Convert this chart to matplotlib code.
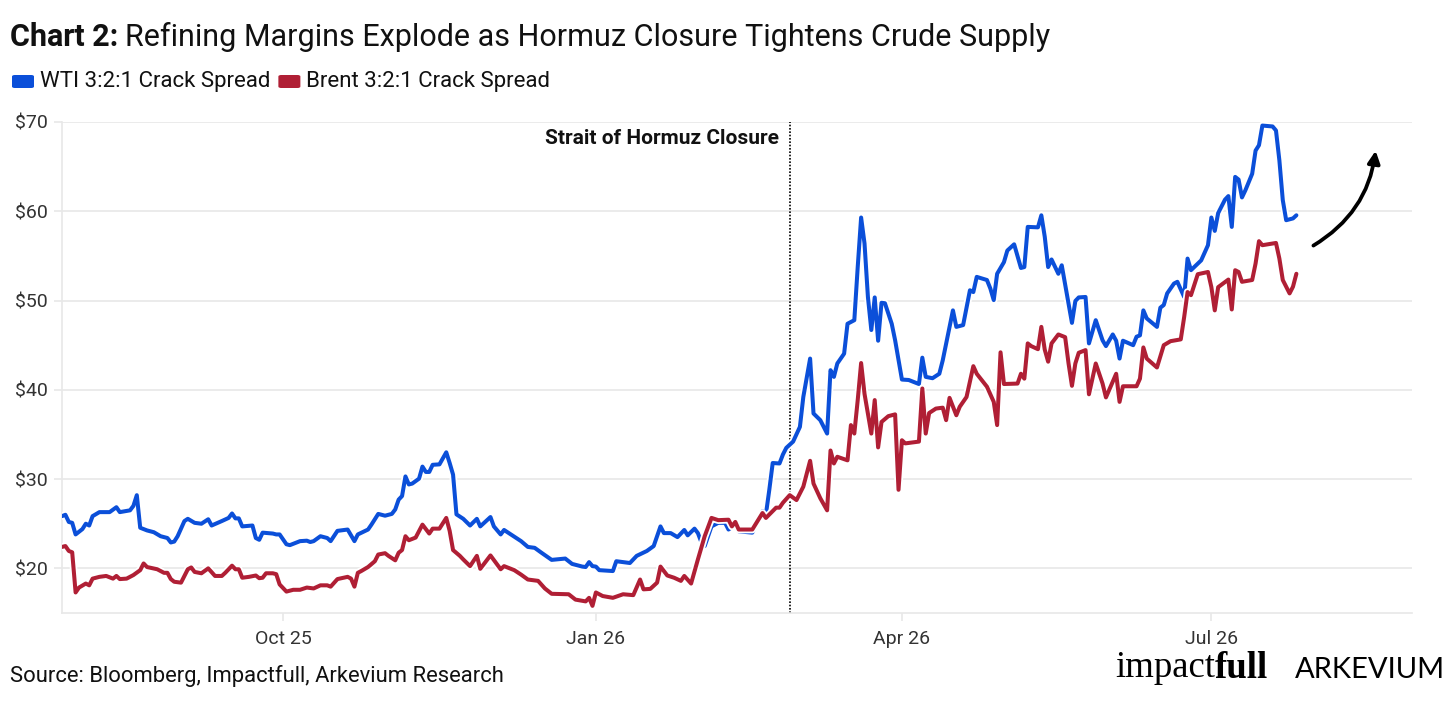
import matplotlib
matplotlib.use('Agg')
import matplotlib.pyplot as plt
import matplotlib.patheffects as pe
from matplotlib.patches import FancyBboxPatch
import pandas as pd

plt.rcParams['font.family'] = ['Roboto', 'DejaVu Sans']

BLUE = '#0B4FD9'
RED = '#B01F35'
GRID = '#E8E8E8'
TXT = '#333333'

wti_dates = [
    '2025-07-28', '2025-07-29', '2025-07-30', '2025-07-31', '2025-08-01', '2025-08-03', '2025-08-04',
    '2025-08-05', '2025-08-06', '2025-08-08', '2025-08-11', '2025-08-13', '2025-08-14', '2025-08-17',
    '2025-08-18', '2025-08-19', '2025-08-20', '2025-08-22', '2025-08-24', '2025-08-26', '2025-08-28',
    '2025-08-29', '2025-08-30', '2025-08-31', '2025-09-02', '2025-09-03', '2025-09-05', '2025-09-07',
    '2025-09-09', '2025-09-10', '2025-09-13', '2025-09-15', '2025-09-16', '2025-09-17', '2025-09-18',
    '2025-09-19', '2025-09-22', '2025-09-23', '2025-09-24', '2025-09-25', '2025-09-28', '2025-09-29',
    '2025-09-30', '2025-10-02', '2025-10-03', '2025-10-05', '2025-10-06', '2025-10-08', '2025-10-09',
    '2025-10-10', '2025-10-12', '2025-10-14', '2025-10-15', '2025-10-17', '2025-10-20', '2025-10-22',
    '2025-10-23', '2025-10-26', '2025-10-27', '2025-10-29', '2025-10-31', '2025-11-02', '2025-11-03',
    '2025-11-04', '2025-11-05', '2025-11-06', '2025-11-07', '2025-11-08', '2025-11-10', '2025-11-11',
    '2025-11-12', '2025-11-13', '2025-11-14', '2025-11-16', '2025-11-18', '2025-11-19', '2025-11-20',
    '2025-11-21', '2025-11-23', '2025-11-25', '2025-11-27', '2025-11-28', '2025-12-01', '2025-12-02',
    '2025-12-04', '2025-12-05', '2025-12-07', '2025-12-10', '2025-12-12', '2025-12-14', '2025-12-16',
    '2025-12-19', '2025-12-23', '2025-12-25', '2025-12-28', '2025-12-29', '2025-12-30', '2025-12-31',
    '2026-01-01', '2026-01-02', '2026-01-06', '2026-01-07', '2026-01-11', '2026-01-13', '2026-01-16',
    '2026-01-18', '2026-01-20', '2026-01-21', '2026-01-23', '2026-01-25', '2026-01-27', '2026-01-28',
    '2026-01-30', '2026-01-31', '2026-02-01', '2026-02-02', '2026-02-04', '2026-02-06', '2026-02-08',
    '2026-02-09', '2026-02-11', '2026-02-12', '2026-02-16', '2026-02-18', '2026-02-19', '2026-02-20',
    '2026-02-21', '2026-02-22', '2026-02-24', '2026-02-25', '2026-02-26', '2026-02-28', '2026-03-02',
    '2026-03-03', '2026-03-05', '2026-03-06', '2026-03-08', '2026-03-10', '2026-03-11', '2026-03-12',
    '2026-03-13', '2026-03-15', '2026-03-16', '2026-03-18', '2026-03-19', '2026-03-20', '2026-03-21',
    '2026-03-22', '2026-03-23', '2026-03-24', '2026-03-25', '2026-03-26', '2026-03-27', '2026-03-29',
    '2026-03-30', '2026-04-01', '2026-04-03', '2026-04-06', '2026-04-07', '2026-04-08', '2026-04-10',
    '2026-04-12', '2026-04-13', '2026-04-16', '2026-04-17', '2026-04-19', '2026-04-21', '2026-04-22',
    '2026-04-23', '2026-04-26', '2026-04-27', '2026-04-28', '2026-04-29', '2026-05-01', '2026-05-02',
    '2026-05-04', '2026-05-06', '2026-05-07', '2026-05-08', '2026-05-11', '2026-05-12', '2026-05-13',
    '2026-05-14', '2026-05-15', '2026-05-17', '2026-05-18', '2026-05-20', '2026-05-21', '2026-05-22',
    '2026-05-23', '2026-05-25', '2026-05-26', '2026-05-28', '2026-05-30', '2026-05-31', '2026-06-02',
    '2026-06-03', '2026-06-04', '2026-06-05', '2026-06-08', '2026-06-09', '2026-06-10', '2026-06-11',
    '2026-06-12', '2026-06-15', '2026-06-16', '2026-06-17', '2026-06-18', '2026-06-20', '2026-06-21',
    '2026-06-23', '2026-06-24', '2026-06-25', '2026-06-28', '2026-06-30', '2026-07-01', '2026-07-02',
    '2026-07-03', '2026-07-05', '2026-07-06', '2026-07-07', '2026-07-08', '2026-07-09', '2026-07-10',
    '2026-07-11', '2026-07-13', '2026-07-14', '2026-07-15', '2026-07-16', '2026-07-19', '2026-07-20',
    '2026-07-21', '2026-07-22', '2026-07-23', '2026-07-25', '2026-07-26',
]
wti_values = [
    25.85, 26.0, 25.2, 25.1, 23.8, 24.4, 25.0,
    24.8, 25.85, 26.3, 26.3, 26.85, 26.3, 26.5,
    27.0, 28.2, 24.55, 24.25, 24.05, 23.6, 23.4,
    22.9, 23.0, 23.6, 25.3, 25.55, 25.1, 25.0,
    25.5, 24.8, 25.3, 25.65, 26.15, 25.6, 25.6,
    24.7, 24.8, 23.4, 23.2, 24.0, 23.9, 23.8,
    23.8, 22.7, 22.6, 22.9, 23.05, 23.1, 22.95,
    23.05, 23.6, 23.4, 23.05, 24.2, 24.35, 23.05,
    23.8, 24.35, 24.9, 26.1, 25.9, 26.1, 26.6,
    27.7, 28.1, 30.3, 29.4, 29.5, 30.05, 31.4,
    30.8, 30.8, 31.6, 31.65, 33.0, 31.8, 30.5,
    26.05, 25.55, 24.8, 25.55, 24.7, 25.75, 24.7,
    23.8, 24.3, 23.8, 23.05, 22.4, 22.3, 21.75,
    20.95, 21.1, 20.5, 20.2, 20.15, 20.7, 20.25,
    20.2, 19.8, 19.7, 20.8, 20.6, 21.4, 21.95,
    22.5, 24.7, 23.95, 23.95, 23.5, 24.3, 23.7,
    24.45, 23.95, 22.95, 22.5, 24.7, 25.1, 25.1,
    24.35, 24.9, 24.15, 24.0, 25.65, 26.4, 26.05,
    28.8, 31.8, 31.75, 32.75, 33.5, 34.2, 35.85,
    39.2, 43.5, 37.35, 36.6, 35.1, 42.2, 41.45,
    42.95, 44.05, 47.4, 47.8, 53.75, 59.3, 56.4,
    50.4, 46.7, 50.35, 45.5, 49.75, 49.7, 47.4,
    45.55, 41.15, 41.1, 40.65, 43.6, 41.45, 41.3,
    41.8, 43.3, 48.9, 47.05, 47.25, 51.15, 50.95,
    52.65, 52.3, 51.35, 50.05, 53.0, 54.3, 55.6,
    56.3, 53.65, 53.75, 58.25, 58.2, 59.55, 57.15,
    53.75, 54.6, 53.0, 53.95, 49.65, 47.5, 49.95,
    50.35, 50.4, 45.2, 47.8, 45.55, 44.9, 46.2,
    45.5, 43.5, 45.5, 45.0, 45.95, 46.1, 48.9,
    48.0, 47.05, 49.2, 49.5, 50.8, 51.9, 52.1,
    50.4, 54.7, 53.4, 54.5, 56.2, 59.3, 57.8,
    59.8, 61.3, 61.7, 58.25, 63.85, 63.55, 61.55,
    62.35, 64.2, 66.8, 67.4, 69.6, 69.5, 69.05,
    65.7, 61.25, 59.0, 59.2, 59.55,
]

brent_dates = [
    '2025-07-28', '2025-07-29', '2025-07-30', '2025-07-31', '2025-08-01', '2025-08-02', '2025-08-04',
    '2025-08-05', '2025-08-06', '2025-08-08', '2025-08-10', '2025-08-12', '2025-08-13', '2025-08-14',
    '2025-08-16', '2025-08-18', '2025-08-20', '2025-08-21', '2025-08-22', '2025-08-25', '2025-08-27',
    '2025-08-28', '2025-08-29', '2025-08-30', '2025-09-01', '2025-09-03', '2025-09-04', '2025-09-05',
    '2025-09-07', '2025-09-09', '2025-09-11', '2025-09-13', '2025-09-14', '2025-09-16', '2025-09-17',
    '2025-09-18', '2025-09-19', '2025-09-21', '2025-09-23', '2025-09-24', '2025-09-25', '2025-09-26',
    '2025-09-28', '2025-09-29', '2025-09-30', '2025-10-02', '2025-10-04', '2025-10-06', '2025-10-08',
    '2025-10-10', '2025-10-12', '2025-10-14', '2025-10-15', '2025-10-17', '2025-10-20', '2025-10-21',
    '2025-10-22', '2025-10-23', '2025-10-24', '2025-10-26', '2025-10-28', '2025-10-29', '2025-10-31',
    '2025-11-01', '2025-11-03', '2025-11-04', '2025-11-05', '2025-11-06', '2025-11-07', '2025-11-09',
    '2025-11-11', '2025-11-13', '2025-11-14', '2025-11-16', '2025-11-18', '2025-11-19', '2025-11-20',
    '2025-11-22', '2025-11-23', '2025-11-25', '2025-11-27', '2025-11-28', '2025-12-01', '2025-12-04',
    '2025-12-05', '2025-12-08', '2025-12-10', '2025-12-12', '2025-12-15', '2025-12-17', '2025-12-19',
    '2025-12-24', '2025-12-26', '2025-12-29', '2025-12-30', '2025-12-31', '2026-01-01', '2026-01-03',
    '2026-01-06', '2026-01-09', '2026-01-12', '2026-01-14', '2026-01-15', '2026-01-17', '2026-01-19',
    '2026-01-20', '2026-01-22', '2026-01-24', '2026-01-26', '2026-01-27', '2026-01-29', '2026-01-31',
    '2026-02-02', '2026-02-04', '2026-02-06', '2026-02-09', '2026-02-10', '2026-02-11', '2026-02-12',
    '2026-02-16', '2026-02-19', '2026-02-20', '2026-02-23', '2026-02-24', '2026-02-25', '2026-02-27',
    '2026-03-01', '2026-03-03', '2026-03-05', '2026-03-06', '2026-03-08', '2026-03-10', '2026-03-11',
    '2026-03-12', '2026-03-13', '2026-03-16', '2026-03-17', '2026-03-18', '2026-03-19', '2026-03-20',
    '2026-03-21', '2026-03-23', '2026-03-24', '2026-03-25', '2026-03-26', '2026-03-28', '2026-03-30',
    '2026-03-31', '2026-04-01', '2026-04-02', '2026-04-06', '2026-04-07', '2026-04-08', '2026-04-09',
    '2026-04-11', '2026-04-13', '2026-04-14', '2026-04-15', '2026-04-17', '2026-04-18', '2026-04-20',
    '2026-04-22', '2026-04-23', '2026-04-26', '2026-04-28', '2026-04-29', '2026-04-30', '2026-05-01',
    '2026-05-05', '2026-05-06', '2026-05-07', '2026-05-08', '2026-05-09', '2026-05-11', '2026-05-12',
    '2026-05-13', '2026-05-14', '2026-05-15', '2026-05-17', '2026-05-19', '2026-05-20', '2026-05-21',
    '2026-05-22', '2026-05-23', '2026-05-25', '2026-05-26', '2026-05-28', '2026-05-30', '2026-05-31',
    '2026-06-03', '2026-06-04', '2026-06-05', '2026-06-09', '2026-06-10', '2026-06-11', '2026-06-12',
    '2026-06-15', '2026-06-17', '2026-06-19', '2026-06-22', '2026-06-23', '2026-06-24', '2026-06-25',
    '2026-06-27', '2026-06-30', '2026-07-01', '2026-07-02', '2026-07-03', '2026-07-06', '2026-07-07',
    '2026-07-08', '2026-07-09', '2026-07-10', '2026-07-13', '2026-07-14', '2026-07-15', '2026-07-16',
    '2026-07-20', '2026-07-21', '2026-07-22', '2026-07-24', '2026-07-25', '2026-07-26',
]
brent_values = [
    22.4, 22.5, 21.95, 21.8, 17.3, 17.85, 18.3,
    18.1, 18.85, 19.05, 19.15, 18.85, 19.15, 18.8,
    18.85, 19.25, 19.8, 20.55, 20.15, 19.9, 19.5,
    19.5, 18.8, 18.5, 18.4, 19.9, 20.1, 19.6,
    19.45, 20.0, 19.15, 19.15, 19.5, 20.3, 19.9,
    19.9, 18.95, 19.05, 19.2, 18.9, 18.95, 19.45,
    19.45, 19.35, 18.2, 17.4, 17.6, 17.6, 17.85,
    17.75, 18.1, 18.1, 17.95, 18.8, 19.05, 18.85,
    17.95, 19.5, 19.7, 20.15, 20.8, 21.55, 21.7,
    21.4, 20.9, 21.75, 22.05, 23.6, 23.15, 23.45,
    24.9, 23.9, 24.45, 24.45, 25.65, 24.2, 22.05,
    21.4, 21.0, 20.25, 21.4, 19.95, 21.45, 19.9,
    20.25, 19.8, 19.3, 18.75, 18.6, 17.75, 17.15,
    17.1, 16.5, 16.3, 16.7, 15.8, 17.3, 16.9,
    16.7, 17.1, 17.0, 18.75, 17.65, 17.7, 18.4,
    20.2, 19.2, 18.95, 18.6, 19.15, 18.3, 21.0,
    23.6, 25.65, 25.4, 25.45, 24.7, 25.2, 24.35,
    24.35, 26.2, 25.65, 26.8, 26.8, 27.35, 28.2,
    27.65, 29.15, 32.05, 29.5, 27.85, 26.5, 33.2,
    31.75, 32.5, 32.1, 36.05, 35.1, 38.85, 43.0,
    39.55, 35.1, 38.85, 33.55, 36.4, 37.05, 37.25,
    28.8, 34.35, 34.0, 34.2, 40.15, 35.1, 37.4,
    37.9, 38.0, 36.6, 39.1, 37.15, 38.1, 39.2,
    42.65, 41.8, 40.35, 38.65, 36.05, 44.2, 40.65,
    40.7, 41.8, 41.25, 45.2, 44.9, 44.55, 47.05,
    44.5, 43.15, 45.2, 46.2, 45.9, 42.95, 40.45,
    42.95, 44.15, 44.45, 39.5, 42.95, 40.7, 39.15,
    41.8, 38.65, 40.4, 40.4, 41.25, 44.75, 43.5,
    42.5, 45.0, 45.45, 45.65, 48.15, 50.95, 50.6,
    52.95, 53.2, 51.5, 48.9, 51.5, 52.35, 49.0,
    53.4, 53.2, 52.1, 52.3, 54.15, 56.65, 56.2,
    56.45, 54.7, 52.3, 50.8, 51.55, 53.0,
]

tick_dates = ['2025-10-01', '2026-01-01', '2026-04-01', '2026-07-01']
tick_labels = ['Oct 25', 'Jan 26', 'Apr 26', 'Jul 26']
y_ticks = [20, 30, 40, 50, 60, 70]
closure_date = '2026-02-27'

W, H = 1456, 701
fig = plt.figure(figsize=(W / 100, H / 100), dpi=100)
fig.patch.set_facecolor('white')
ax = fig.add_axes([62 / W, 88 / H, 1350 / W, 491 / H])

outline = [pe.Stroke(linewidth=5.5, foreground='white'), pe.Normal()]
ax.plot(pd.to_datetime(wti_dates), wti_values, color=BLUE, lw=2.9,
        solid_joinstyle='round', solid_capstyle='round', path_effects=outline, zorder=3)
ax.plot(pd.to_datetime(brent_dates), brent_values, color=RED, lw=2.9,
        solid_joinstyle='round', solid_capstyle='round', path_effects=outline, zorder=4)

ax.set_xlim(pd.Timestamp('2025-07-28'), pd.Timestamp('2026-08-29'))
ax.set_ylim(15, 70)

ax.set_yticks(y_ticks)
ax.set_yticklabels(['$%d' % v for v in y_ticks])
ax.set_xticks(pd.to_datetime(tick_dates))
ax.set_xticklabels(tick_labels)
ax.grid(axis='y', color=GRID, lw=1.2, zorder=0)
ax.set_axisbelow(True)
for s in ['top', 'right']:
    ax.spines[s].set_visible(False)
for s in ['left', 'bottom']:
    ax.spines[s].set_color(GRID)
    ax.spines[s].set_linewidth(1.2)
ax.tick_params(axis='both', colors=GRID, length=6, width=1.2, labelcolor=TXT, labelsize=14)
ax.tick_params(axis='x', pad=6)
ax.tick_params(axis='y', pad=4)

# closure marker
closure = pd.Timestamp(closure_date)
ax.axvline(closure, color='black', ls=(0, (1, 1)), lw=1.2, zorder=2)
ax.annotate('Strait of Hormuz Closure', xy=(closure, 68.1), xytext=(-8, 0),
            textcoords='offset points', ha='right', va='center',
            fontsize=15, fontweight='bold', color='#111111')

# trend arrow
ax.annotate('', xy=(1376, H - 148), xycoords='figure pixels',
            xytext=(1311, H - 247), textcoords='figure pixels',
            arrowprops=dict(arrowstyle='-|>', color='black', lw=2.7,
                            connectionstyle='arc3,rad=0.25', mutation_scale=18))

renderer = fig.canvas.get_renderer()

# title
t1 = fig.text(10 / W, 1 - 37 / H, 'Chart 2:', fontsize=22, fontweight='bold',
              color='#111111', va='center', ha='left')
bb = t1.get_window_extent(renderer)
fig.text(bb.x1 / W + 7 / W, 1 - 37 / H, 'Refining Margins Explode as Hormuz Closure Tightens Crude Supply',
         fontsize=22, color='#111111', va='center', ha='left')

# legend
legend_items = [('WTI 3:2:1 Crack Spread', BLUE), ('Brent 3:2:1 Crack Spread', RED)]
x0 = 12
for label, col in legend_items:
    box = FancyBboxPatch((x0 / W, 1 - 88 / H), 22 / W, 13 / H,
                         boxstyle='round,pad=0,rounding_size=0.002',
                         transform=fig.transFigure, facecolor=col, edgecolor='none')
    fig.add_artist(box)
    lt = fig.text((x0 + 28) / W, 1 - 82 / H, label, fontsize=16, color='#111111',
                  va='center', ha='left')
    x0 = lt.get_window_extent(renderer).x1 + 8

# source
fig.text(10 / W, 1 - 676 / H, 'Source: Bloomberg, Impactfull, Arkevium Research',
         fontsize=15.8, color='#111111', va='center', ha='left')

# logos
l1 = fig.text(1115 / W, 1 - 668 / H, 'impact', family='Liberation Serif',
              fontsize=26.5, color='black', va='center', ha='left')
bb = l1.get_window_extent(renderer)
fig.text(bb.x1 / W, 1 - 668 / H, 'full', family='Liberation Serif', fontweight='bold',
         fontsize=26.5, color='black', va='center', ha='left')
fig.text(1445 / W, 1 - 670 / H, 'ARKEVIUM', family='Lato', fontweight='normal',
         fontsize=21, color='black', va='center', ha='right')

fig.savefig('out.png', dpi=100, facecolor='white')
